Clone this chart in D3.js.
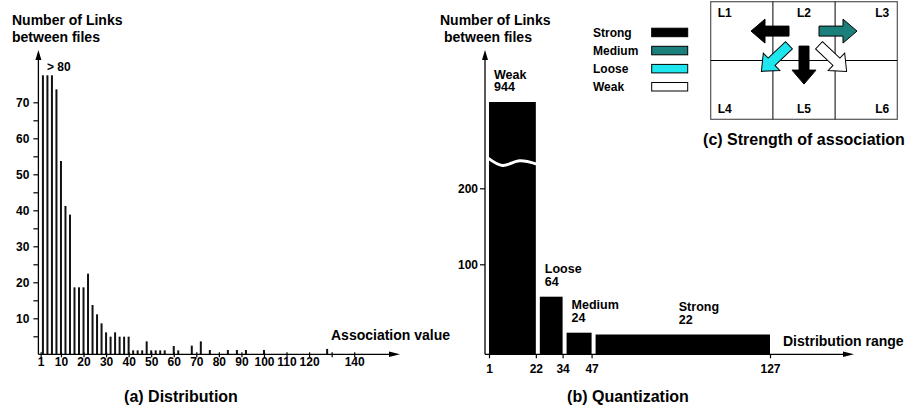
<!DOCTYPE html>
<html><head><meta charset="utf-8">
<script src="https://cdn.jsdelivr.net/npm/d3@7"></script>
<style>
body{margin:0;background:#fff;}
svg{display:block;font-family:"Liberation Sans",Arial,Helvetica,sans-serif;font-weight:bold;}
</style></head><body>
<svg id="chart" width="909" height="413"></svg>
<script>
// ---------------- DATA ----------------
// (a) Distribution : association value -> number of links (first three bars are "> 80", drawn truncated)
const assocValues = [2,4,6,8,10,12,14,16,18,20,22,24,26,28,30,32,34,36,38,40,42,44,46,48,50,52,54,56,60,62,68,72,76,84,88,92,100,128];
const linkCounts  = [77.5,77.5,77.5,73.6,53.7,41.2,38.8,18.6,18.6,18.6,22.4,13.7,11.1,8.6,6.1,4.9,6.1,4.9,4.9,4.9,1.1,1.1,1.1,3.6,1.1,1.1,1.1,1.1,2.3,1.1,2.4,3.6,1.2,1.2,1.2,1.2,1.2,1.5];
const aYTicks = [5,10,15,20,25,30,35,40,45,50,55,60,65,70];
const aXTicks = [1,10,20,30,40,50,60,70,80,90,100,110,120,130,140];
const aXHidden = [130];

// (b) Quantization
const rangeBounds    = [1,22,34,47,127];
const strengthNames  = ["Weak","Loose","Medium","Strong"];
const strengthCounts = [944,64,24,22];
const bYTicks = [100,200];
const bBreakValue = 430;   // where the broken axis jumps

// (c) Strength of association
const legendNames  = ["Strong","Medium","Loose","Weak"];
const legendColors = ["#000000","#1b7f7c","#1ee6ee","#ffffff"];
const cellNames = ["L1","L2","L3","L4","L5","L6"];
const arrowSource = "L2";
const arrowTargets   = ["L1","L3","L5","L4","L6"];
const arrowStrengths = ["Strong","Medium","Strong","Loose","Weak"];

// ---------------- DRAW ----------------
const svg = d3.select("#chart");
const FONT = '"Liberation Sans",Arial,Helvetica,sans-serif';

function styleAxis(g, size){
  g.attr("font-family", FONT).attr("font-size", size).attr("font-weight","bold");
  g.selectAll("text").attr("fill","#000");
  g.selectAll("line").attr("stroke","#000").attr("stroke-width",1.2);
}
function text(g, x, y, s, size, anchor){
  return g.append("text").attr("x",x).attr("y",y).attr("font-size",size)
    .attr("text-anchor",anchor||"start").attr("fill","#000").text(s);
}
function arrowUp(g, x, yTip){
  g.append("path").attr("d",`M${x},${yTip} L${x-3},${yTip+10} L${x+3},${yTip+10} Z`).attr("fill","#000");
}
function arrowRight(g, xTip, y){
  g.append("path").attr("d",`M${xTip},${y} L${xTip-11},${y-2.7} L${xTip-11},${y+2.7} Z`).attr("fill","#000");
}

// ===== Panel (a) =====
const xA = d3.scaleLinear().domain([0,140]).range([38.4,354.2]);
const yA = d3.scaleLinear().domain([0,70]).range([354.3,102.3]);
const gA = svg.append("g");

gA.selectAll("rect.bar").data(assocValues).join("rect").attr("class","bar")
  .attr("x", d => xA(d)-1).attr("width", 2)
  .attr("y", (d,i) => yA(linkCounts[i]))
  .attr("height", (d,i) => yA(0)-yA(linkCounts[i]))
  .attr("fill","#111");

const yAxA = gA.append("g").attr("transform",`translate(${xA(0)},0)`)
  .call(d3.axisLeft(yA).tickValues(aYTicks).tickSize(5).tickPadding(4)
        .tickFormat(d => d % 10 === 0 ? d : ""));
yAxA.select(".domain").remove();
styleAxis(yAxA, 12);

const xAxA = gA.append("g").attr("transform",`translate(0,${yA(0)})`)
  .call(d3.axisBottom(xA).tickValues(aXTicks).tickSize(3).tickPadding(0)
        .tickFormat(d => aXHidden.includes(d) ? "" : d));
xAxA.select(".domain").remove();
xAxA.selectAll(".tick line").attr("y1",-2);
styleAxis(xAxA, 12);

gA.append("line").attr("x1",xA(0)).attr("x2",xA(0)).attr("y1",yA(0)).attr("y2",58)
  .attr("stroke","#000").attr("stroke-width",1.3);
arrowUp(gA, xA(0), 50);
gA.append("line").attr("x1",xA(0)).attr("x2",392).attr("y1",yA(0)).attr("y2",yA(0))
  .attr("stroke","#000").attr("stroke-width",1.3);
arrowRight(gA, 400, yA(0));

text(gA, 12, 25, "Number of Links", 14);
text(gA, 12, 42, "between files", 14);
text(gA, 47, 71, "> 80", 12);
text(gA, 331, 340, "Association value", 14);
text(gA, 181, 402, "(a) Distribution", 16, "middle");

// ===== Panel (b) =====
const xB = d3.scaleLinear().domain([1,127]).range([489,770]);
const yB = d3.scaleLinear().domain([0,100,200,944]).range([354.3,264.3,188.3,102]);
const gB = svg.append("g");
const axisXB = xB(1)-4;

const bars = strengthNames.map((n,i) => ({
  name:n, count:strengthCounts[i],
  x0: xB(rangeBounds[i]) + (i ? 4 : 0),
  x1: xB(rangeBounds[i+1])
}));
gB.selectAll("rect.q").data(bars).join("rect").attr("class","q")
  .attr("x", d => d.x0).attr("width", d => d.x1-d.x0)
  .attr("y", d => yB(d.count)).attr("height", d => yB(0)-yB(d.count))
  .attr("fill","#000");

// axis-break wave across the tall bar
const wb = bars[0], yBreak = yB(bBreakValue);
const wave = [[0,-3.5],[0.3,3.8],[0.65,-0.8],[1,2.5]];
gB.append("path")
  .attr("d", d3.line().curve(d3.curveCardinal)(wave.map(p => [wb.x0-1 + p[0]*(wb.x1-wb.x0+2), yBreak + p[1]])))
  .attr("fill","none").attr("stroke","#fff").attr("stroke-width",3);

const lab = gB.selectAll("g.lab").data(bars).join("g").attr("class","lab");
lab.append("text")
  .attr("x", d => (d.x1-d.x0) > 100 ? (d.x0+d.x1)/2 - 4 : d.x0+5)
  .attr("y", d => yB(d.count)-23.5).attr("font-size",12.5).attr("fill","#000").text(d => d.name);
lab.append("text")
  .attr("x", d => (d.x1-d.x0) > 100 ? (d.x0+d.x1)/2 - 4 : d.x0+5)
  .attr("y", d => yB(d.count)-11).attr("font-size",12.5).attr("fill","#000").text(d => d.count);

const yAxB = gB.append("g").attr("transform",`translate(${axisXB},0)`)
  .call(d3.axisLeft(yB).tickValues(bYTicks).tickSize(5).tickPadding(2));
yAxB.select(".domain").remove();
styleAxis(yAxB, 12);

const xAxB = gB.append("g").attr("transform",`translate(0,${yB(0)})`)
  .call(d3.axisBottom(xB).tickValues(rangeBounds).tickSize(4).tickPadding(6));
xAxB.select(".domain").remove();
styleAxis(xAxB, 12);

gB.append("line").attr("x1",axisXB).attr("x2",axisXB).attr("y1",yB(0)).attr("y2",58)
  .attr("stroke","#000").attr("stroke-width",1.3);
arrowUp(gB, axisXB, 50);
gB.append("line").attr("x1",axisXB).attr("x2",845).attr("y1",yB(0)).attr("y2",yB(0))
  .attr("stroke","#000").attr("stroke-width",1.3);
arrowRight(gB, 854, yB(0));

text(gB, 440, 25, "Number of Links", 14);
text(gB, 444, 42, "between files", 14);
text(gB, 783, 346, "Distribution range", 14);
text(gB, 628, 402, "(b) Quantization", 16, "middle");

// ===== Panel (c) =====
const gC = svg.append("g");
const colorOf = d3.scaleOrdinal().domain(legendNames).range(legendColors);

const leg = gC.selectAll("g.leg").data(legendNames).join("g").attr("class","leg")
  .attr("transform", (d,i) => `translate(0,${36.7 + i*18.1})`);
leg.append("text").attr("x",593).attr("y",0).attr("font-size",12).attr("fill","#000").text(d => d);
leg.append("rect").attr("x",651.7).attr("y",-8.5).attr("width",36).attr("height",8.5)
  .attr("fill", d => colorOf(d)).attr("stroke","#000").attr("stroke-width",1);

const gx = d3.scaleLinear().domain([0,3]).range([710.7,897.3]);
const gy = d3.scaleLinear().domain([0,2]).range([1.7,119.3]);
gC.append("rect").attr("x",gx(0)).attr("y",gy(0)).attr("width",gx(3)-gx(0)).attr("height",gy(2)-gy(0))
  .attr("fill","none").attr("stroke","#555").attr("stroke-width",1.2);
[1,2].forEach(c => gC.append("line").attr("x1",gx(c)).attr("x2",gx(c)).attr("y1",gy(0)).attr("y2",gy(2))
  .attr("stroke","#000").attr("stroke-width",1));
gC.append("line").attr("x1",gx(0)).attr("x2",gx(3)).attr("y1",gy(1)).attr("y2",gy(1))
  .attr("stroke","#000").attr("stroke-width",1);

const cells = cellNames.map((n,i) => ({name:n, col:i%3, row:Math.floor(i/3)}));
gC.selectAll("text.cell").data(cells).join("text").attr("class","cell")
  .attr("x", d => d.col===0 ? gx(0)+7 : d.col===1 ? gx(1.5) : gx(3)-8)
  .attr("text-anchor", d => d.col===0 ? "start" : d.col===1 ? "middle" : "end")
  .attr("y", d => d.row===0 ? gy(0)+15 : gy(2)-6)
  .attr("font-size",12).attr("fill","#000").text(d => d.name);

const centerOf = name => { const c = cells.find(e => e.name===name); return [gx(c.col+0.5), gy(c.row+0.5)]; };
const hub = centerOf(arrowSource);
const AL = 38, HL = 14, BW = 10, HW = 24;
const arrowShape = `M0,${-BW/2} L${AL-HL},${-BW/2} L${AL-HL},${-HW/2} L${AL},0 L${AL-HL},${HW/2} L${AL-HL},${BW/2} L0,${BW/2} Z`;
arrowTargets.forEach((t,i) => {
  const c = centerOf(t);
  const dx = c[0]-hub[0], dy = c[1]-hub[1];
  const m = Math.max(Math.abs(dx), Math.abs(dy));
  const sx = hub[0] + dx*15/m, sy = hub[1] + dy*15/m;
  const ang = Math.atan2(dy,dx)*180/Math.PI;
  gC.append("path").attr("d", arrowShape)
    .attr("transform", `translate(${sx},${sy}) rotate(${ang})`)
    .attr("fill", colorOf(arrowStrengths[i])).attr("stroke","#000").attr("stroke-width",1);
});

text(gC, 804, 145, "(c) Strength of association", 16, "middle");
</script>
</body></html>
